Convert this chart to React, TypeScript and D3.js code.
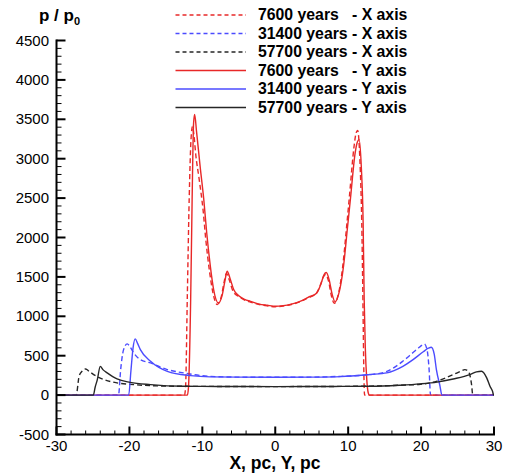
import React from "react";
import * as d3 from "d3";

const W = 508;
const H = 475;

// 7600 years
const redXx = [-30, -12.45, -12.3, -12.05, -11.8, -11.55, -11.35, -11.15, -10.9, -10.45, -9.9, -9.5, -9.0, -8.55, -7.95, -7.4, -7.0, -6.7, -6.3, -5.8, -5.0, -4.2, -3.4, -2.2, -1.1, 0, 1.1, 2.2, 3.4, 4.5, 5.6, 6.2, 6.6, 6.9, 7.3, 7.7, 8.1, 8.7, 9.25, 9.8, 10.2, 10.8, 11.1, 11.3, 11.6, 11.9, 12.05, 12.15, 12.25, 30];
const redXv = [0, 0, 100, 1300, 2500, 3250, 3410, 3300, 3050, 2750, 2350, 1950, 1560, 1300, 1150, 1250, 1440, 1545, 1460, 1320, 1250, 1205, 1180, 1150, 1132, 1122, 1130, 1150, 1185, 1235, 1290, 1400, 1500, 1530, 1450, 1260, 1165, 1300, 1630, 2150, 2550, 3150, 3330, 3360, 3000, 2000, 1000, 300, 0, 0];
const redYx = [-30, -12.05, -11.9, -11.6, -11.4, -11.2, -11.05, -10.8, -10.3, -9.8, -9.4, -8.9, -8.45, -7.8, -7.3, -6.9, -6.6, -6.2, -5.7, -5.0, -4.2, -3.4, -2.2, -1.1, 0, 1.1, 2.2, 3.4, 4.5, 5.7, 6.3, 6.7, 7.0, 7.4, 7.8, 8.2, 8.8, 9.36, 9.9, 10.3, 10.96, 11.25, 11.5, 11.8, 12.05, 12.2, 12.35, 12.55, 12.75, 12.9, 30];
const redYv = [0, 0, 100, 1210, 2480, 3450, 3560, 3350, 2900, 2480, 2060, 1634, 1340, 1170, 1260, 1450, 1571, 1480, 1339, 1260, 1215, 1190, 1155, 1140, 1127, 1135, 1155, 1190, 1240, 1297, 1420, 1530, 1555, 1460, 1280, 1185, 1320, 1634, 2120, 2480, 3075, 3210, 3240, 2900, 2200, 1200, 600, 200, 30, 0, 0];

// 31400 years
const blueXx = [-30, -21.5, -21.2, -20.8, -20.3, -19.9, -19.4, -18.5, -17.1, -14.8, -12.6, -8.9, -5, 0, 5, 9, 13, 15.3, 17.5, 18.9, 19.8, 20.45, 20.85, 21.1, 21.3, 30];
const blueXv = [0, 0, 324, 577, 650, 610, 535, 450, 408, 324, 282, 238, 228, 226, 228, 238, 260, 300, 430, 540, 610, 650, 560, 324, 0, 0];
const blueYx = [-30, -20.1, -19.8, -19.5, -19.2, -18.9, -18.5, -17.1, -14.8, -11.6, -8.9, -5, 0, 5, 9, 13, 15.3, 17.5, 18.9, 20.3, 21.0, 21.4, 21.8, 22.1, 22.6, 22.85, 30];
const blueYv = [0, 0, 300, 600, 713, 660, 577, 430, 302, 247, 231, 228, 226, 228, 235, 262, 282, 365, 450, 550, 595, 607, 520, 324, 112, 0, 0];

// 57700 years
const blackXx = [-30, -27.3, -26.9, -26.5, -26.0, -25.5, -24.9, -23.5, -21.7, -19.4, -17.1, -13, -8, 0, 8, 13, 17, 19.9, 22.1, 24.4, 25.4, 26.0, 26.5, 26.9, 27.1, 30];
const blackXv = [0, 0, 240, 302, 332, 300, 260, 197, 155, 133, 120, 112, 110, 108, 110, 114, 125, 138, 175, 260, 300, 323, 300, 150, 0, 0];
const blackYx = [-30, -24.95, -24.7, -24.4, -24.0, -23.6, -23.05, -21.7, -19.9, -17.1, -12.6, -8, 0, 8, 13, 17, 19.9, 22.2, 24.4, 26.7, 27.6, 28.3, 29.0, 29.45, 29.8, 29.95, 30];
const blackYv = [0, 0, 100, 197, 365, 320, 282, 205, 162, 133, 112, 110, 108, 110, 112, 125, 142, 165, 205, 260, 294, 302, 218, 112, 48, 0, 0];

const yTicks = [-500, 0, 500, 1000, 1500, 2000, 2500, 3000, 3500, 4000, 4500];
const xTicks = [-30, -20, -10, 0, 10, 20, 30];

const legendLabels = [
  "7600 years   - X axis",
  "31400 years - X axis",
  "57700 years - X axis",
  "7600 years   - Y axis",
  "31400 years - Y axis",
  "57700 years - Y axis",
];

const RED = "#e82828";
const BLUE = "#4b4bff";
const BLACK = "#262626";

export default function App() {
  const x = d3.scaleLinear().domain([-30, 30]).range([56.5, 494]);
  const y = d3.scaleLinear().domain([-500, 4500]).range([434.5, 40.5]);

  const line = d3
    .line<[number, number]>()
    .x((d) => x(d[0]))
    .y((d) => y(d[1]))
    .curve(d3.curveMonotoneX);

  const mk = (xs: number[], vs: number[]) => xs.map((v, i) => [v, vs[i]] as [number, number]);

  const series = [
    { d: mk(redXx, redXv), c: RED, dash: true },
    { d: mk(blueXx, blueXv), c: BLUE, dash: true },
    { d: mk(blackXx, blackXv), c: BLACK, dash: true },
    { d: mk(redYx, redYv), c: RED, dash: false },
    { d: mk(blueYx, blueYv), c: BLUE, dash: false },
    { d: mk(blackYx, blackYv), c: BLACK, dash: false },
  ];

  const yMinor = d3.range(-500, 4501, 100).filter((v) => v % 500 !== 0);
  const xMinor = d3.range(-30, 31, 2).filter((v) => v % 10 !== 0);

  const x0 = x(-30);
  const yb = y(-500);
  const font = "'Liberation Sans', Arial, sans-serif";

  return (
    <svg width={W} height={H} style={{ position: "absolute", left: 0, top: 0, background: "#fff" }} fontFamily={font}>
      {series.map((s, i) => (
        <path
          key={i}
          d={line(s.d) || ""}
          fill="none"
          stroke={s.c}
          strokeWidth={1.4}
          strokeDasharray={s.dash ? "5,3" : undefined}
        />
      ))}
      {/* axes */}
      <line x1={x0} x2={x0} y1={y(4500) - 1} y2={yb + 1} stroke="#000" strokeWidth={2} />
      <line x1={x0 - 1} x2={x(30) + 1} y1={yb} y2={yb} stroke="#000" strokeWidth={2} />
      {yTicks.map((t) => (
        <g key={"y" + t}>
          <line x1={x0} x2={x0 + 9} y1={y(t)} y2={y(t)} stroke="#000" strokeWidth={2} />
          <text x={49} y={y(t) + 5} fontSize={15} textAnchor="end" fill="#000">
            {t}
          </text>
        </g>
      ))}
      {yMinor.map((t) => (
        <line key={"ym" + t} x1={x0} x2={x0 + 5} y1={y(t)} y2={y(t)} stroke="#000" strokeWidth={1} />
      ))}
      {xTicks.map((t) => (
        <g key={"x" + t}>
          <line x1={x(t)} x2={x(t)} y1={yb} y2={yb - 8} stroke="#000" strokeWidth={2} />
          <text x={x(t)} y={451} fontSize={15} textAnchor="middle" fill="#000">
            {t}
          </text>
        </g>
      ))}
      {xMinor.map((t) => (
        <line key={"xm" + t} x1={x(t)} x2={x(t)} y1={yb} y2={yb - 4} stroke="#000" strokeWidth={1} />
      ))}
      <text x={275} y={469} fontSize={17.5} fontWeight="bold" textAnchor="middle" fill="#000">
        X, pc, Y, pc
      </text>
      <text x={39} y={21} fontSize={17} fontWeight="bold" fill="#000">
        p / p<tspan fontSize={11} dy={4}>0</tspan>
      </text>
      {/* legend */}
      {legendLabels.map((lab, i) => {
        const ly = 15 + i * 18.5;
        const s = series[i];
        return (
          <g key={"l" + i}>
            <line
              x1={175.5}
              x2={246}
              y1={ly}
              y2={ly}
              stroke={s.c}
              strokeWidth={1.4}
              strokeDasharray={s.dash ? "4,3" : undefined}
            />
            <text x={258} y={ly + 5} fontSize={15.8} fontWeight="bold" fill="#000" style={{ whiteSpace: "pre" }}>
              {lab}
            </text>
          </g>
        );
      })}
    </svg>
  );
}
